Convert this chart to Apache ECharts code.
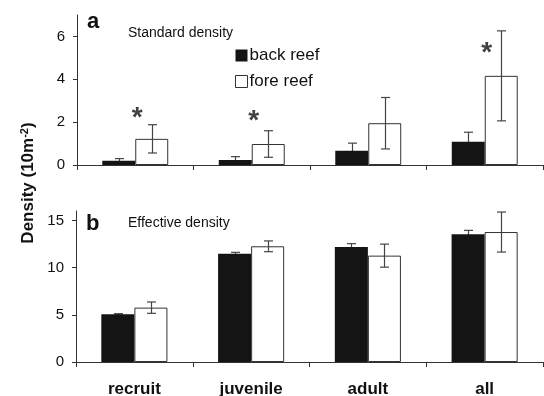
<!DOCTYPE html>
<html>
<head>
<meta charset="utf-8">
<script src="https://cdn.jsdelivr.net/npm/echarts@6/dist/echarts.min.js"></script>
<style>
html,body{margin:0;padding:0;background:#fff;}
#chart{width:544px;height:396px;}
</style>
</head>
<body>
<div id="chart"></div>
<script>
var categories = ['recruit', 'juvenile', 'adult', 'all'];
var seriesNames = ['back reef', 'fore reef'];

// Panel a: Standard density (mean, SE)
var stdBack = [0.20, 0.23, 0.67, 1.08];
var stdBackSE = [0.10, 0.16, 0.35, 0.45];
var stdFore = [1.22, 0.98, 1.95, 4.16];
var stdForeSE = [0.66, 0.62, 1.20, 2.10];
// asterisks (significance) in panel a: [category index, y]
var stdStars = [[0, 2.37], [1, 2.25], [3, 5.39]];

// Panel b: Effective density (mean, SE)
var effBack = [5.05, 11.48, 12.18, 13.53];
var effBackSE = [0.07, 0.14, 0.36, 0.42];
var effFore = [5.76, 12.26, 11.27, 13.77];
var effForeSE = [0.60, 0.57, 1.22, 2.12];

var topTicks = [0, 2, 4, 6];
var bottomTicks = [0, 5, 10, 15];

var FONT = 'Liberation Sans, Arial, Helvetica, sans-serif';
var BAR_FRAC = 0.283;
var AXIS_COLOR = '#333';

function errData(means, ses) {
  return means.map(function (m, i) { return [i, m, ses[i]]; });
}

function makeErrRender(side) {
  return function (params, api) {
    var cat = api.value(0), m = api.value(1), se = api.value(2);
    var band = api.size([1, 0])[0];
    var off = side * band * BAR_FRAC / 2;
    var hi = api.coord([cat, m + se]);
    var lo = api.coord([cat, m - se]);
    var x = Math.round(hi[0] + off) + 0.5;
    var cap = 4.5;
    var st = { stroke: '#444', lineWidth: 1.2, fill: null };
    return {
      type: 'group',
      children: [
        { type: 'line', shape: { x1: x, y1: hi[1], x2: x, y2: lo[1] }, style: st },
        { type: 'line', shape: { x1: x - cap, y1: hi[1], x2: x + cap, y2: hi[1] }, style: st },
        { type: 'line', shape: { x1: x - cap, y1: lo[1], x2: x + cap, y2: lo[1] }, style: st }
      ]
    };
  };
}

function yAxis(grid, max, ticks) {
  return {
    type: 'value', gridIndex: grid, min: 0, max: max,
    splitLine: { show: false },
    axisLine: { show: true, lineStyle: { color: AXIS_COLOR, width: 1 } },
    axisTick: { show: true, inside: false, length: 4, customValues: ticks, lineStyle: { color: AXIS_COLOR } },
    axisLabel: { customValues: ticks, margin: 12, fontSize: 15, color: '#111', fontFamily: FONT }
  };
}

function xAxis(grid, showLabels) {
  return {
    type: 'category', gridIndex: grid, data: categories,
    axisLine: { show: true, lineStyle: { color: AXIS_COLOR, width: 1 } },
    axisTick: { show: true, length: 5, lineStyle: { color: AXIS_COLOR } },
    axisLabel: {
      show: showLabels, margin: 19, fontSize: 17, fontWeight: 'bold', color: '#111', fontFamily: FONT
    }
  };
}

var backStyle = { color: '#141414', borderColor: '#141414', borderWidth: 0 };
var foreStyle = { color: '#ffffff', borderColor: '#333', borderWidth: 1 };

var option = {
  animation: false,
  backgroundColor: '#fff',
  textStyle: { fontFamily: FONT },
  grid: [
    { left: 77, top: 15, width: 466, height: 150, outerBoundsMode: 'none', containLabel: false },
    { left: 76, top: 211, width: 467, height: 151, outerBoundsMode: 'none', containLabel: false }
  ],
  xAxis: [xAxis(0, false), xAxis(1, true)],
  yAxis: [yAxis(0, 7, topTicks), yAxis(1, 16, bottomTicks)],
  legend: {
    data: [
      { name: 'back reef', itemStyle: backStyle },
      { name: 'fore reef', itemStyle: foreStyle }
    ],
    orient: 'vertical', left: 235, top: 47, padding: 0,
    itemWidth: 12, itemHeight: 12, itemGap: 9, icon: 'rect',
    selectedMode: false,
    textStyle: { fontSize: 17, color: '#111', fontFamily: FONT, padding: [0, 0, 0, -3] }
  },
  series: [
    { name: 'back reef', type: 'bar', xAxisIndex: 0, yAxisIndex: 0, data: stdBack,
      barWidth: (BAR_FRAC * 100) + '%', barGap: '0%', itemStyle: backStyle, z: 3 },
    { name: 'fore reef', type: 'bar', xAxisIndex: 0, yAxisIndex: 0, data: stdFore,
      barWidth: (BAR_FRAC * 100) + '%', barGap: '0%', itemStyle: foreStyle, z: 3 },
    { name: 'back reef', type: 'bar', xAxisIndex: 1, yAxisIndex: 1, data: effBack,
      barWidth: (BAR_FRAC * 100) + '%', barGap: '0%', itemStyle: backStyle, z: 3 },
    { name: 'fore reef', type: 'bar', xAxisIndex: 1, yAxisIndex: 1, data: effFore,
      barWidth: (BAR_FRAC * 100) + '%', barGap: '0%', itemStyle: foreStyle, z: 3 },
    { type: 'custom', xAxisIndex: 0, yAxisIndex: 0, renderItem: makeErrRender(-1),
      data: errData(stdBack, stdBackSE), z: 2, silent: true },
    { type: 'custom', xAxisIndex: 0, yAxisIndex: 0, renderItem: makeErrRender(1),
      data: errData(stdFore, stdForeSE), z: 4, silent: true },
    { type: 'custom', xAxisIndex: 1, yAxisIndex: 1, renderItem: makeErrRender(-1),
      data: errData(effBack, effBackSE), z: 2, silent: true },
    { type: 'custom', xAxisIndex: 1, yAxisIndex: 1, renderItem: makeErrRender(1),
      data: errData(effFore, effForeSE), z: 4, silent: true },
    { type: 'scatter', xAxisIndex: 0, yAxisIndex: 0, data: stdStars, symbolSize: 0, silent: true,
      label: { show: true, formatter: '*', position: 'inside', offset: [2, 4],
        fontSize: 28, fontWeight: 'bold', color: '#111', fontFamily: FONT }, z: 5 }
  ],
  graphic: [
    { type: 'text', x: 87, y: 22, style: { text: 'a', fill: '#111',
      font: 'bold 22px ' + FONT, verticalAlign: 'middle', align: 'left' } },
    { type: 'text', x: 128, y: 33, style: { text: 'Standard density', fill: '#111',
      font: '14px ' + FONT, verticalAlign: 'middle', align: 'left' } },
    { type: 'text', x: 86, y: 224, style: { text: 'b', fill: '#111',
      font: 'bold 22px ' + FONT, verticalAlign: 'middle', align: 'left' } },
    { type: 'text', x: 128, y: 223, style: { text: 'Effective density', fill: '#111',
      font: '14px ' + FONT, verticalAlign: 'middle', align: 'left' } },
    { type: 'text', x: 28, y: 183, rotation: Math.PI / 2,
      style: { text: 'Density (10m{sup|-2})', fill: '#111', font: 'bold 17px ' + FONT,
        align: 'center', verticalAlign: 'middle',
        rich: { sup: { fontSize: 11, fontWeight: 'bold', fontFamily: FONT, verticalAlign: 'top', padding: [0, 0, 7, 0], fill: '#111' } } } }
  ]
};

var chart = echarts.init(document.getElementById('chart'), null, { renderer: 'canvas' });
chart.setOption(option);
</script>
</body>
</html>
